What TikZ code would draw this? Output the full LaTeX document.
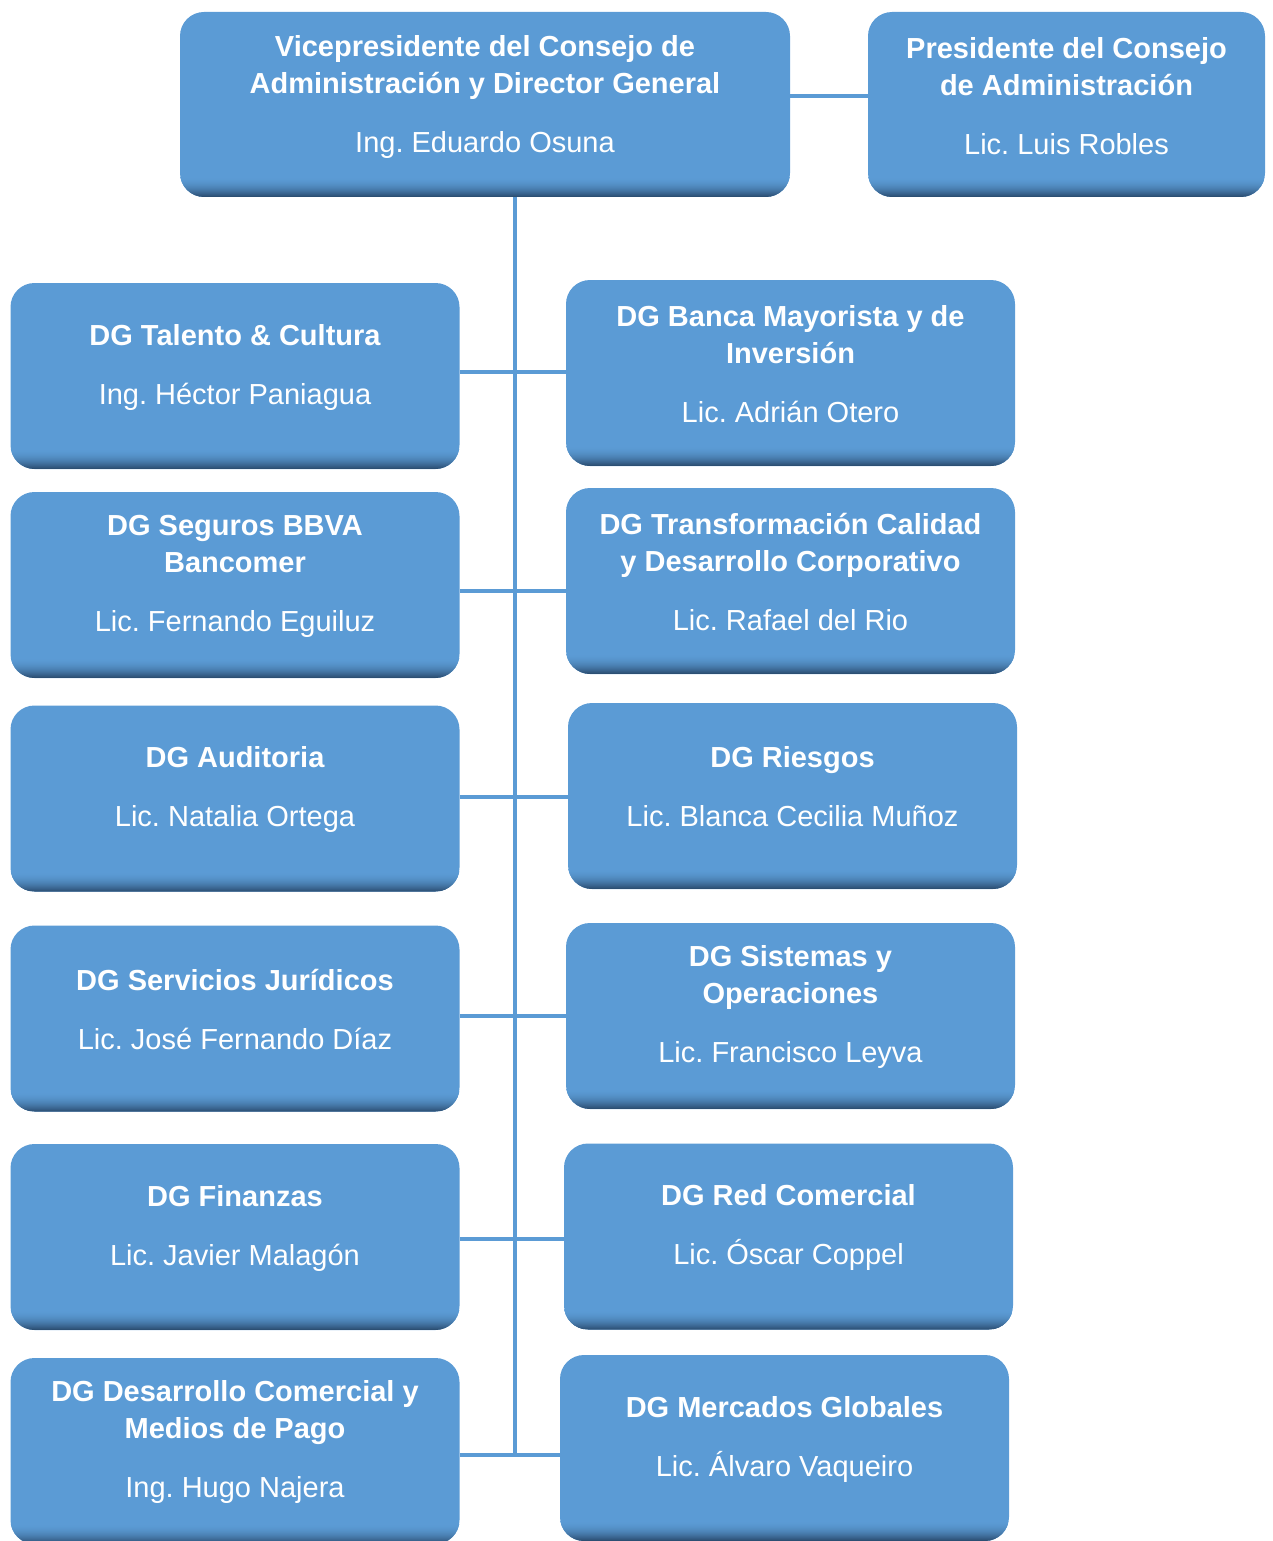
\documentclass[tikz,border=0pt]{standalone}
\usepackage{fontspec}
\setmainfont{Liberation Sans}
\usetikzlibrary{positioning}
\definecolor{boxFill}{HTML}{5B9BD5}
\definecolor{boxEdge}{HTML}{2C4F73}
\colorlet{linkLine}{boxFill}

\begin{document}
\begin{tikzpicture}[
  x=1pt, y=-1pt,
  orgbox/.style={
    fill=boxFill,
    rounded corners=24pt,
    inner sep=0pt,
    minimum width=449pt,
    minimum height=186pt,
    path picture={
      \foreach[evaluate=\i as \pct using int(100*(1-\i/20)*(1-\i/20))] \i in {0,...,19}
        \fill[boxEdge!\pct!boxFill, sharp corners]
          ([yshift=\i pt]path picture bounding box.south west)
          rectangle ([yshift=\i pt+1.3pt]path picture bounding box.south east);
    }
  },
  orgtext/.style={
    text=white,
    align=center,
    inner sep=0pt,
    font=\fontsize{29}{37}\selectfont\bfseries\frenchspacing
  },
  link/.style={
    draw=linkLine,
    line width=4pt
  }
]
\useasboundingbox (0,0) rectangle (1273,1541);

% top row
\node[orgbox, minimum width=610pt, minimum height=185pt] (vp) at (485,104.5) {};
\node[orgtext] (vp-text) at ([yshift=7pt]vp.center)
  {Vicepresidente del Consejo de\\Administración y Director General\\[22pt]\mdseries Ing. Eduardo Osuna};
\node[orgbox, minimum width=397pt, minimum height=185pt] (pres) at (1066.5,104.5) {};
\node[orgtext] (pres-text) at ([yshift=8pt]pres.center)
  {Presidente del Consejo\\de Administración\\[22pt]\mdseries Lic. Luis Robles};

% direcciones generales
\foreach \nm/\x/\y/\ttl/\per in {
  talento/235/376/{DG Talento \& Cultura}/{Ing. Héctor Paniagua},
  seguros/235/585/{DG Seguros BBVA\\Bancomer}/{Lic. Fernando Eguiluz},
  auditoria/235/798.5/{DG Auditoria}/{Lic. Natalia Ortega},
  juridicos/235/1018.5/{DG Servicios Jurídicos}/{Lic. José Fernando Díaz},
  finanzas/235/1237/{DG Finanzas}/{Lic. Javier Malagón},
  desarrollo/235/1451/{DG Desarrollo Comercial y\\Medios de Pago}/{Ing. Hugo Najera},
  banca/790.5/373/{DG Banca Mayorista y de\\Inversión}/{Lic. Adrián Otero},
  transformacion/790.5/581/{DG Transformación Calidad\\y Desarrollo Corporativo}/{Lic. Rafael del Rio},
  riesgos/792.5/796/{DG Riesgos}/{Lic. Blanca Cecilia Muñoz},
  sistemas/790.5/1016/{DG Sistemas y\\Operaciones}/{Lic. Francisco Leyva},
  redcomercial/788.5/1236.5/{DG Red Comercial}/{Lic. Óscar Coppel},
  mercados/784.5/1448/{DG Mercados Globales}/{Lic. Álvaro Vaqueiro}%
}{
  \node[orgbox] (\nm) at (\x,\y) {};
  \node[orgtext] (\nm-text) at ([yshift=9pt]\nm.center) {\ttl\\[22pt]\mdseries\per};
}

% connectors
\draw[link] (vp.east |- 0,96) -- (pres.west |- 0,96);
\coordinate (trunkend) at (515,1455);
\draw[link] (vp.south -| trunkend) -- (trunkend);
\foreach \l/\r/\cy in {
  talento/banca/372,
  seguros/transformacion/591,
  auditoria/riesgos/797,
  juridicos/sistemas/1016,
  finanzas/redcomercial/1239,
  desarrollo/mercados/1455%
}
  \draw[link] (\l.east |- 0,\cy) -- (\r.west |- 0,\cy);
\end{tikzpicture}
\end{document}
